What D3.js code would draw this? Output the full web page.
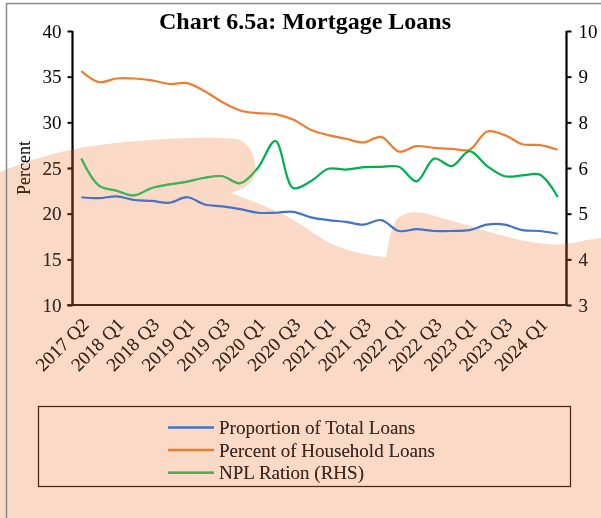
<!DOCTYPE html>
<html>
<head>
<meta charset="utf-8">
<script src="https://cdn.jsdelivr.net/npm/d3@7"></script>
<style>
    body { margin: 0; background: #fff; }
    svg { display: block; font-family: "Liberation Serif", "Times New Roman", serif; }
</style>
</head>
<body>
<div id="chart"></div>
<script>
var w = 601,
    h = 518;

var categories = ["2017 Q2", "2017 Q4", "2018 Q1", "2018 Q2", "2018 Q3", "2018 Q4", "2019 Q1", "2019 Q2",
    "2019 Q3", "2019 Q4", "2020 Q1", "2020 Q2", "2020 Q3", "2020 Q4", "2021 Q1", "2021 Q2", "2021 Q3",
    "2021 Q4", "2022 Q1", "2022 Q2", "2022 Q3", "2022 Q4", "2023 Q1", "2023 Q2", "2023 Q3", "2023 Q4",
    "2024 Q1", "2024 Q2"];

var totalLoans = [21.8, 21.7, 21.9, 21.5, 21.4, 21.2, 21.8, 21.0, 20.8, 20.5, 20.1, 20.1, 20.2, 19.6,
    19.3, 19.1, 18.8, 19.3, 18.1, 18.3, 18.1, 18.1, 18.2, 18.8, 18.8, 18.2, 18.1, 17.8];

var householdLoans = [35.6, 34.4, 34.8, 34.8, 34.6, 34.2, 34.3, 33.4, 32.2, 31.3, 31.0, 30.9, 30.3, 29.2,
    28.6, 28.2, 27.8, 28.4, 26.8, 27.4, 27.2, 27.1, 27.0, 29.0, 28.6, 27.6, 27.5, 27.0];

var nplRatio = [6.74, 6.05, 5.92, 5.80, 5.99, 6.08, 6.15, 6.25, 6.29, 6.11, 6.50, 7.19, 5.99, 6.16,
    6.48, 6.46, 6.52, 6.53, 6.53, 6.16, 6.74, 6.55, 6.93, 6.55, 6.29, 6.31, 6.33, 5.76];

var leftTicks = [10, 15, 20, 25, 30, 35, 40];
var rightTickLabels = ["3", "4", "5", "6", "8", "9", "10"];

var seriesNames = ["Proportion of Total Loans", "Percent of Household Loans", "NPL Ration (RHS)"];
var seriesColors = ["#4472c4", "#ed7d31", "#00b050"];

var plot = {left: 72.5, right: 566.5, top: 31, bottom: 305};
var fontFamily = "'Liberation Serif', 'Times New Roman', serif";

var svg = d3.select("#chart").append("svg")
    .attr("width", w)
    .attr("height", h);

// the light peach wash that covers the lower part of the picture
var washPath = "M0,172 C30,160 60,150 100,145 C150,139 200,136 236,139 C250,142 257,158 255,174 " +
    "C253,184 242,190 231,193 C250,200 268,207 288,217 C303,225 314,234 326,241 C345,251 368,256 386,257 " +
    "C389,242 391,226 398,218 C405,212 416,211 428,214 C458,222 490,233 520,240 C545,245 562,246 578,242 " +
    "C590,239 601,238 601,238 L601,518 L0,518 Z";

svg.append("path")
    .attr("d", washPath)
    .attr("fill", "#fad9c6");

// outer frame
svg.append("path")
    .attr("d", "M6.5,518 L6.5,3.5 L601,3.5")
    .attr("fill", "none")
    .attr("stroke", "#8a8a8a")
    .attr("stroke-width", 1.5);

var x = d3.scaleBand()
    .domain(categories)
    .range([plot.left, plot.right]);

var yLeft = d3.scaleLinear()
    .domain([10, 40])
    .range([plot.bottom, plot.top]);

var yRight = d3.scaleLinear()
    .domain([3, 10])
    .range([plot.bottom, plot.top]);

var rightTicks = d3.range(rightTickLabels.length).map(function (i) {
    return 3 + i * 7 / (rightTickLabels.length - 1);
});

function xc(d, i) {
    return x(categories[i]) + x.bandwidth() / 2;
}

var leftAxis = svg.append("g")
    .attr("transform", "translate(" + plot.left + ",0)")
    .call(d3.axisLeft(yLeft).tickValues(leftTicks).tickSize(5).tickPadding(6));

var rightAxis = svg.append("g")
    .attr("transform", "translate(" + plot.right + ",0)")
    .call(d3.axisRight(yRight).tickValues(rightTicks).tickSize(5).tickPadding(7)
        .tickFormat(function (d, i) {
            return rightTickLabels[i];
        }));

var bottomAxis = svg.append("g")
    .attr("transform", "translate(0," + plot.bottom + ")")
    .call(d3.axisBottom(x)
        .tickValues(categories.filter(function (d, i) {
            return i % 2 === 0;
        }))
        .tickSize(0));

[leftAxis, rightAxis, bottomAxis].forEach(function (g) {
    g.attr("font-family", fontFamily)
        .attr("font-size", 19);
    g.select(".domain")
        .attr("stroke", "#000")
        .attr("stroke-width", 2.2);
    g.selectAll(".tick line")
        .attr("stroke", "#000")
        .attr("stroke-width", 2);
    g.selectAll("text")
        .attr("fill", "#000");
});

leftAxis.select(".domain").attr("d", "M0," + plot.top + "V" + plot.bottom);
rightAxis.select(".domain").attr("d", "M0," + plot.top + "V" + plot.bottom);
bottomAxis.select(".domain").attr("d", "M" + (plot.left - 5) + ",0H" + (plot.right + 1));

bottomAxis.selectAll(".tick text")
    .attr("x", 0)
    .attr("y", 0)
    .attr("dy", "0.35em")
    .attr("text-anchor", "end")
    .attr("transform", "translate(4,16) rotate(-45)");

svg.append("text")
    .attr("transform", "translate(30,168) rotate(-90)")
    .attr("text-anchor", "middle")
    .attr("font-family", fontFamily)
    .style("font-size", "18px")
    .text("Percent");

svg.append("text")
    .attr("x", 305)
    .attr("y", 29)
    .attr("text-anchor", "middle")
    .attr("font-family", fontFamily)
    .style("font-size", "24px")
    .style("font-weight", "bold")
    .text("Chart 6.5a: Mortgage Loans");

var lineLeft = d3.line()
    .x(xc)
    .y(function (d) {
        return yLeft(d);
    })
    .curve(d3.curveCatmullRom.alpha(0.5));

var lineRight = d3.line()
    .x(xc)
    .y(function (d) {
        return yRight(d);
    })
    .curve(d3.curveCatmullRom.alpha(0.5));

svg.append("path")
    .datum(totalLoans)
    .attr("d", lineLeft)
    .attr("fill", "none")
    .attr("stroke", seriesColors[0])
    .attr("stroke-width", 2.2);

svg.append("path")
    .datum(householdLoans)
    .attr("d", lineLeft)
    .attr("fill", "none")
    .attr("stroke", seriesColors[1])
    .attr("stroke-width", 2.2);

svg.append("path")
    .datum(nplRatio)
    .attr("d", lineRight)
    .attr("fill", "none")
    .attr("stroke", seriesColors[2])
    .attr("stroke-width", 2.2);

/* LEGEND */
var legend = svg.append("g");

legend.append("rect")
    .attr("x", 38.5)
    .attr("y", 406.5)
    .attr("width", 532)
    .attr("height", 80)
    .attr("fill", "none")
    .attr("stroke", "#000")
    .attr("stroke-width", 1.2);

var legendRows = legend.selectAll("g.row")
    .data(seriesNames)
    .enter()
    .append("g")
    .attr("class", "row")
    .attr("transform", function (d, i) {
        return "translate(0," + (427.5 + i * 22.6) + ")";
    });

legendRows.append("line")
    .attr("x1", 168)
    .attr("x2", 214)
    .attr("stroke", function (d, i) {
        return seriesColors[i];
    })
    .attr("stroke-width", 2.5);

legendRows.append("text")
    .attr("x", 219)
    .attr("dy", "0.35em")
    .attr("font-family", fontFamily)
    .style("font-size", "19px")
    .text(function (d) {
        return d;
    });

// the wash darkens black ink to brown where it lies over it
svg.append("path")
    .attr("d", washPath)
    .attr("fill", "#4a2614")
    .style("mix-blend-mode", "lighten");
</script>
</body>
</html>
